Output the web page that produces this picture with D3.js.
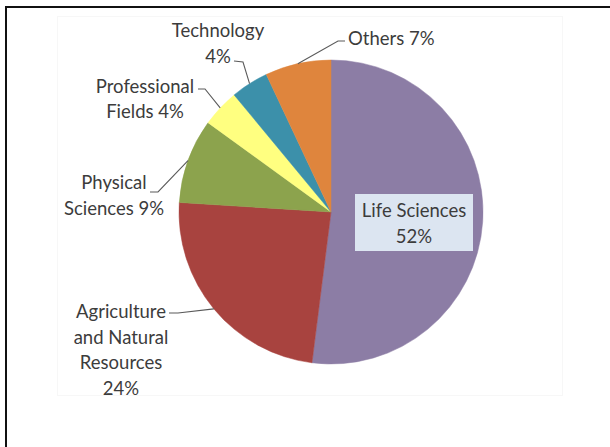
<!DOCTYPE html>
<html>
<head>
<meta charset="utf-8">
<script src="https://cdn.jsdelivr.net/npm/d3@7"></script>
<style>
  html, body { margin: 0; padding: 0; background: #fff; }
  svg { display: block; }
  text { font-family: Lato, "Open Sans", sans-serif; fill: #3c3c3c; }
</style>
</head>
<body>
<svg id="chart" width="610" height="447"></svg>
<script>
// Share of field by discipline, in percent
const categories = ["Life Sciences", "Agriculture and Natural Resources", "Physical Sciences",
                    "Professional Fields", "Technology", "Others"];
const values = [52, 24, 9, 4, 4, 7];
const colors = ["#8C7DA5", "#A8433F", "#8CA34D", "#FFFF80", "#3C90AA", "#DF853D"];
// How each category's label is broken into lines ("%" is the value)
const labelLines = [
  ["Life Sciences", "%"],
  ["Agriculture", "and Natural", "Resources", "%"],
  ["Physical", "Sciences %"],
  ["Professional", "Fields %"],
  ["Technology", "%"],
  ["Others %"]
];

const svg = d3.select("#chart");
const W = 610, H = 447;
const cx = 331, cy = 212, R = 152;

// Outer frame (top and left edges) and the faint plot-area outline
svg.append("rect").attr("x", 57.5).attr("y", 16.5).attr("width", 505).attr("height", 379)
  .attr("fill", "none").attr("stroke", "#f7f7f7").attr("stroke-width", 1);
svg.append("path").attr("d", `M6,${H} V7 H${W}`)
  .attr("fill", "none").attr("stroke", "#111").attr("stroke-width", 2);

const pie = d3.pie().sort(null).value(d => d.value);
const data = categories.map((c, i) => ({ name: c, value: values[i], color: colors[i], lines: labelLines[i] }));
const arcs = pie(data);
const arc = d3.arc().innerRadius(0).outerRadius(R);

const g = svg.append("g").attr("transform", `translate(${cx},${cy})`);
g.selectAll("path.slice").data(arcs).enter().append("path")
  .attr("class", "slice")
  .attr("d", arc)
  .attr("fill", d => d.data.color)
  .attr("stroke", d => d.data.color)
  .attr("stroke-width", 0.5);

// Label placement: text centre x, first baseline, line height, and leader start (elbow) points
const layout = [
  { x: 414, y: 217, lh: 26, box: { x: 355, y: 194, w: 118, h: 57 } },
  { x: 121, y: 318, lh: 25.5, leader: [[169, 313], [178, 313]] },
  { x: 114, y: 189, lh: 25.5, leader: [[150, 192], [158, 192]] },
  { x: 145, y: 93, lh: 25, leader: [[198, 89], [205, 89]] },
  { x: 218, y: 37, lh: 26, leader: [[234, 61], [243, 62]] },
  { x: 348, y: 45, lh: 26, anchor: "start", leader: [[345, 41], [338, 41]] }
];

const edgePoint = d => {
  const a = (d.startAngle + d.endAngle) / 2;
  return [cx + R * Math.sin(a), cy - R * Math.cos(a)];
};

arcs.forEach((d, i) => {
  const L = layout[i];
  if (L.box) {
    svg.append("rect").attr("x", L.box.x).attr("y", L.box.y)
      .attr("width", L.box.w).attr("height", L.box.h).attr("fill", "#DCE5F1");
  }
  if (L.leader) {
    const pts = L.leader.concat([edgePoint(d)]);
    svg.append("path").attr("d", d3.line()(pts))
      .attr("fill", "none").attr("stroke", "#5a5a5a").attr("stroke-width", 1.1);
  }
  const t = svg.append("text")
    .attr("text-anchor", L.anchor || "middle")
    .attr("font-size", 18.5);
  d.data.lines.forEach((ln, j) => {
    t.append("tspan").attr("x", L.x).attr("y", L.y + j * L.lh)
      .text(ln.replace("%", d.data.value + "%"));
  });
});
</script>
</body>
</html>
